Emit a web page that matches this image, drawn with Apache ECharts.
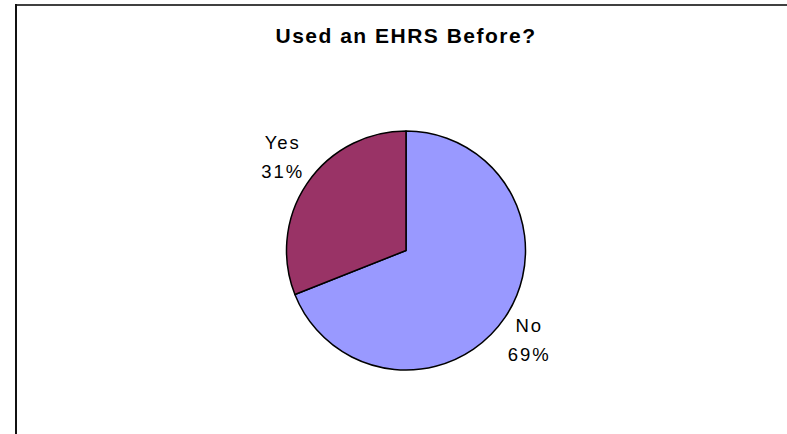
<!DOCTYPE html>
<html>
<head>
<meta charset="utf-8">
<title>Used an EHRS Before?</title>
<script src="https://cdn.jsdelivr.net/npm/echarts@6/dist/echarts.min.js"></script>
<style>
  html, body { margin: 0; padding: 0; background: #fff; }
  /* wide letter spacing for the SVG text; slightly tighter for the title */
  #chart { width: 787px; height: 434px; letter-spacing: 2px; }
  #chart text[style*="font-size: 21px"] { letter-spacing: 1.5px; }
</style>
</head>
<body>
<div id="chart"></div>
<script>
// Survey answers and their shares (percent)
const chartTitle = 'Used an EHRS Before?';
const answers = ['No', 'Yes'];
const shares = [69, 31];
const sliceColors = ['#9999FF', '#993366'];

const chart = echarts.init(document.getElementById('chart'), null, { renderer: 'svg' });

const pieData = answers.map((name, i) => ({
  name: name,
  value: shares[i],
  itemStyle: { color: sliceColors[i] }
}));

chart.setOption({
  backgroundColor: '#ffffff',
  animation: false,
  title: {
    text: chartTitle,
    left: 401,
    textAlign: 'center',
    top: 19.5,
    textStyle: {
      fontFamily: 'Liberation Sans, Arial, sans-serif',
      fontSize: 21,
      fontWeight: 'bold',
      color: '#000'
    }
  },
  // frame edges of the chart area
  graphic: [
    { type: 'line', shape: { x1: 15, y1: 5, x2: 787, y2: 5 }, style: { stroke: '#404040', lineWidth: 2 } },
    { type: 'line', shape: { x1: 16, y1: 4, x2: 16, y2: 434 }, style: { stroke: '#111', lineWidth: 2 } }
  ],
  series: [{
    type: 'pie',
    center: [406, 250.5],
    radius: 119.5,
    startAngle: 90,
    clockwise: true,
    data: pieData,
    itemStyle: { borderColor: '#000', borderWidth: 1.5 },
    label: {
      show: true,
      position: 'outside',
      alignTo: 'none',
      distanceToLabelLine: -12,
      formatter: '{b}\n{c}%',
      fontFamily: 'Liberation Sans, Arial, sans-serif',
      fontSize: 18.5,
      lineHeight: 29,
      color: '#000'
    },
    labelLine: { show: false, length: 44, length2: 0 },
    labelLayout: function () {
      return { align: 'center', dy: -2 };
    },
    emphasis: { disabled: true }
  }]
});
</script>
</body>
</html>
